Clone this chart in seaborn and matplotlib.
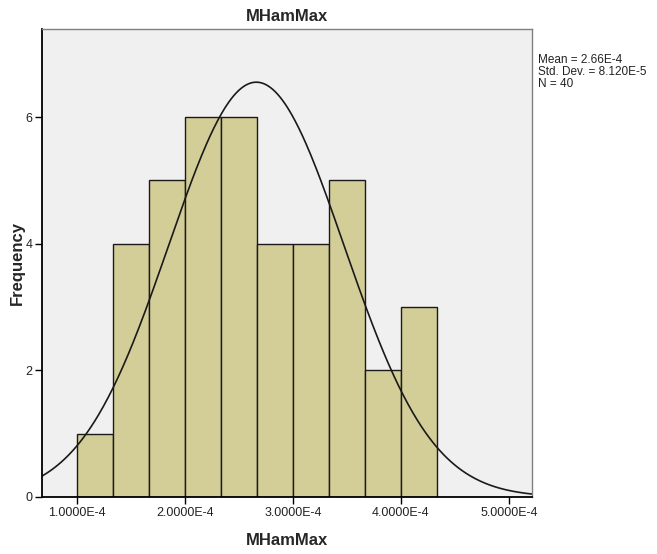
import numpy as np
import matplotlib
matplotlib.use("Agg")
import matplotlib.pyplot as plt
import seaborn as sns

# Histogram of MHamMax: bin edges and counts per bin
bin_edges = [1.0e-4, 1.3333e-4, 1.6667e-4, 2.0e-4, 2.3333e-4, 2.6667e-4,
             3.0e-4, 3.3333e-4, 3.6667e-4, 4.0e-4, 4.3333e-4]
counts = [1, 4, 5, 6, 6, 4, 4, 5, 2, 3]

# Summary statistics
mean_val = 2.66e-4
std_val = 8.120e-5
n_obs = 40

x_ticks = [1e-4, 2e-4, 3e-4, 4e-4, 5e-4]
x_tick_labels = ["1.0000E-4", "2.0000E-4", "3.0000E-4", "4.0000E-4", "5.0000E-4"]
y_ticks = [0, 2, 4, 6]

sns.set_style("white")
plt.rcParams["font.family"] = ["Liberation Sans", "DejaVu Sans"]

fig = plt.figure(figsize=(6.57, 5.54), dpi=100)
ax = fig.add_axes([0.0639, 0.1029, 0.8097 - 0.0639, 0.9477 - 0.1029])
ax.set_facecolor("#f0f0f0")

centers = [(a + b) / 2 for a, b in zip(bin_edges[:-1], bin_edges[1:])]
sns.histplot(x=centers, weights=counts, bins=bin_edges, ax=ax,
             color="#d3ce97", alpha=1.0, edgecolor="#1a1a1a", linewidth=1.0)

x_lo, x_hi = 0.675e-4, 5.213e-4
bin_w = bin_edges[1] - bin_edges[0]
xs = np.linspace(x_lo, x_hi, 400)
ys = n_obs * bin_w / (std_val * np.sqrt(2 * np.pi)) * np.exp(-0.5 * ((xs - mean_val) / std_val) ** 2)
ax.plot(xs, ys, color="#1a1a1a", linewidth=1.2)

ax.set_xlim(x_lo, x_hi)
ax.set_ylim(0, 7.39)
ax.set_xticks(x_ticks)
ax.set_xticklabels(x_tick_labels)
ax.set_yticks(y_ticks)
ax.tick_params(axis="both", direction="out", length=5, width=1, color="black",
               labelsize=9, labelcolor="#222222", bottom=True, left=True, pad=2)

for side in ["left", "bottom"]:
    ax.spines[side].set_color("black")
    ax.spines[side].set_linewidth(1.3)
for side in ["top", "right"]:
    ax.spines[side].set_visible(True)
    ax.spines[side].set_color("#808080")
    ax.spines[side].set_linewidth(1.0)

ax.set_title("MHamMax", fontsize=12, fontweight="bold", pad=6)
ax.set_xlabel("MHamMax", fontsize=12, fontweight="bold", labelpad=10)
ax.set_ylabel("Frequency", fontsize=12, fontweight="bold")
ax.yaxis.set_label_coords(-0.034, 0.5)

fig.text(538 / 657, 1 - 54 / 554,
         f"Mean = {mean_val:.2E}".replace("E-04", "E-4") + "\n"
         + "Std. Dev. = 8.120E-5\n" + f"N = {n_obs}",
         fontsize=8.5, va="top", ha="left", color="#222222", linespacing=1.0)

fig.savefig("out.png", dpi=100, facecolor="white")
